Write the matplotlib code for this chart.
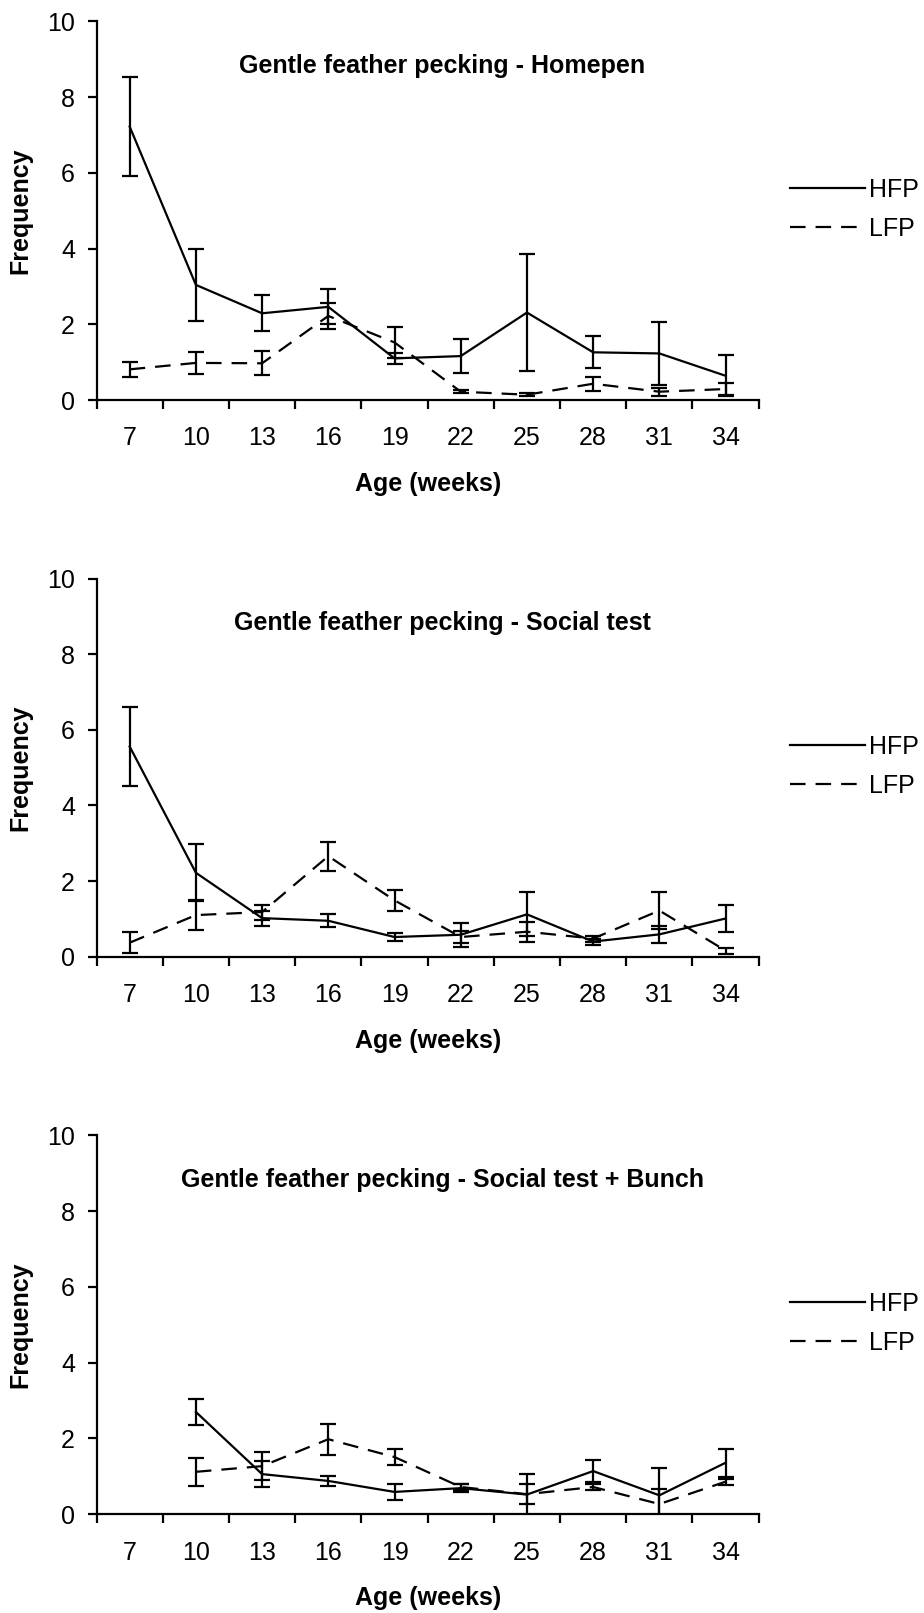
import numpy as np
import matplotlib
matplotlib.use("Agg")
import matplotlib.pyplot as plt
from matplotlib.lines import Line2D

plt.rcParams['font.family'] = ['Liberation Sans', 'DejaVu Sans']

semanas = [7, 10, 13, 16, 19, 22, 25, 28, 31, 34]
rotulos_semanas = ["7", "10", "13", "16", "19", "22", "25", "28", "31", "34"]
titulos = ["Gentle feather pecking - Homepen",
           "Gentle feather pecking - Social test",
           "Gentle feather pecking - Social test + Bunch"]

# Homepen
hfp_home = [7.22, 3.04, 2.29, 2.46, 1.10, 1.16, 2.31, 1.26, 1.23, 0.64]
hfp_home_se = [1.30, 0.96, 0.48, 0.46, 0.15, 0.45, 1.55, 0.42, 0.83, 0.54]
lfp_home = [0.81, 0.98, 0.97, 2.22, 1.52, 0.22, 0.14, 0.43, 0.22, 0.29]
lfp_home_se = [0.20, 0.30, 0.32, 0.35, 0.42, 0.04, 0.04, 0.18, 0.11, 0.17]

# Social test
hfp_social = [5.56, 2.22, 1.02, 0.95, 0.52, 0.58, 1.12, 0.40, 0.59, 1.01]
hfp_social_se = [1.05, 0.75, 0.20, 0.17, 0.11, 0.32, 0.58, 0.08, 0.22, 0.36]
lfp_social = [0.37, 1.10, 1.18, 2.66, 1.49, 0.52, 0.66, 0.48, 1.22, 0.16]
lfp_social_se = [0.28, 0.40, 0.20, 0.38, 0.27, 0.16, 0.27, 0.08, 0.50, 0.08]

# Social test + Bunch (sem dados na semana 7)
hfp_bunch = [np.nan, 2.70, 1.06, 0.88, 0.59, 0.69, 0.52, 1.14, 0.50, 1.36]
hfp_bunch_se = [np.nan, 0.34, 0.34, 0.14, 0.21, 0.11, 0.54, 0.29, 0.73, 0.37]
lfp_bunch = [np.nan, 1.12, 1.27, 1.98, 1.51, 0.72, 0.53, 0.72, 0.27, 0.86]
lfp_bunch_se = [np.nan, 0.37, 0.37, 0.41, 0.22, 0.08, 0.27, 0.07, 0.39, 0.08]

LW = 1.6
TRACO = (7, 4.5)
FONTE = 18


def desenhar_painel(ax, titulo, hfp, hfp_se, lfp, lfp_se):
    x = np.arange(len(semanas))
    ax.errorbar(x, hfp, yerr=hfp_se, color="black", lw=LW, elinewidth=LW,
                capsize=5.5, capthick=LW)
    ax.errorbar(x, lfp, yerr=lfp_se, color="black", lw=LW, elinewidth=LW,
                capsize=5.5, capthick=LW, dashes=TRACO)

    ax.set_xlim(-0.5, len(semanas) - 0.5)
    ax.set_ylim(0, 10)
    ax.set_yticks([0, 2, 4, 6, 8, 10])

    # ticks entre as categorias, rotulos no centro
    ax.set_xticks(np.arange(len(semanas) + 1) - 0.5)
    ax.set_xticklabels([])
    ax.set_xticks(x, minor=True)
    ax.set_xticklabels(rotulos_semanas, minor=True)
    ax.tick_params(axis="x", which="minor", length=0, labelsize=FONTE, pad=19)
    ax.tick_params(axis="x", which="major", length=6.5, width=LW, direction="out")
    ax.tick_params(axis="y", length=6.5, width=LW, direction="out", labelsize=FONTE, pad=9)

    for lado in ["top", "right"]:
        ax.spines[lado].set_visible(False)
    for lado in ["left", "bottom"]:
        ax.spines[lado].set_linewidth(LW)

    ax.text(0.522, 0.882, titulo, transform=ax.transAxes, ha="center", va="center",
            fontsize=FONTE, fontweight="bold")

    ax.set_xlabel("Age (weeks)", fontsize=FONTE, fontweight="bold")
    ax.xaxis.set_label_coords(0.5, -0.222)
    ax.xaxis.label.set_verticalalignment("center")
    ax.set_ylabel("Frequency", fontsize=FONTE, fontweight="bold")
    ax.yaxis.set_label_coords(-0.1148, 0.5)
    ax.yaxis.label.set_verticalalignment("center")

    linhas = [Line2D([], [], color="black", lw=LW),
              Line2D([], [], color="black", lw=LW, dashes=TRACO)]
    ax.legend(linhas, ["HFP", "LFP"], loc="center left", bbox_to_anchor=(1.047, 0.503),
              frameon=False, fontsize=FONTE, handlelength=3.0, handletextpad=0.15,
              labelspacing=0.6, borderpad=0, borderaxespad=0)


def main():
    fig = plt.figure(figsize=(9.24, 16.13), dpi=100)
    esquerda, largura = 0.1045, 0.7166
    baixos = [0.7520, 0.4069, 0.0612]
    alturas = [0.2348, 0.2343, 0.2350]
    dados = [
        (hfp_home, hfp_home_se, lfp_home, lfp_home_se),
        (hfp_social, hfp_social_se, lfp_social, lfp_social_se),
        (hfp_bunch, hfp_bunch_se, lfp_bunch, lfp_bunch_se),
    ]
    for i in range(3):
        ax = fig.add_axes([esquerda, baixos[i], largura, alturas[i]])
        desenhar_painel(ax, titulos[i], *dados[i])
    fig.savefig("out.png", dpi=100)


if __name__ == "__main__":
    main()
